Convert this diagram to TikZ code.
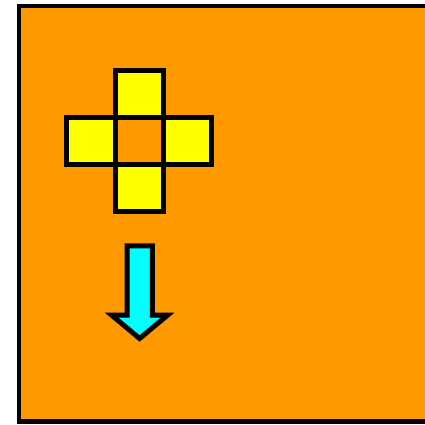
\documentclass[tikz,border=0pt]{standalone}
\usetikzlibrary{positioning}
\definecolor{bgorange}{RGB}{255,153,0}
\definecolor{sqyellow}{RGB}{255,255,0}
\definecolor{arrcyan}{RGB}{0,255,255}
\tikzset{
  sq/.style={draw=black, fill=sqyellow, line width=5pt, inner sep=0pt,
    minimum width=48.3pt, minimum height=47.2pt, rectangle},
}
\begin{document}
\begin{tikzpicture}[x=1pt,y=-1pt]
\useasboundingbox (0,0) rectangle (425,424);
\clip (0,0) rectangle (425,424);
\draw[fill=bgorange, line width=4.6pt] (18.8,5.8) rectangle (445,421.6);
\node[sq] (top) at (139.3,93.7) {};
\node[sq] (left) at (90.9,140.9) {};
\node[sq] (right) at (187.8,140.9) {};
\node[sq] (bottom) at (139.3,188.0) {};
\draw[fill=arrcyan, line width=5pt, miter limit=10]
  (127,245.8) -- (152.3,245.8) -- (152.3,315.2) -- (167.5,315.2) -- (139.6,338.5)
  -- (111.7,315.2) -- (127,315.2) -- cycle;
\end{tikzpicture}
\end{document}
